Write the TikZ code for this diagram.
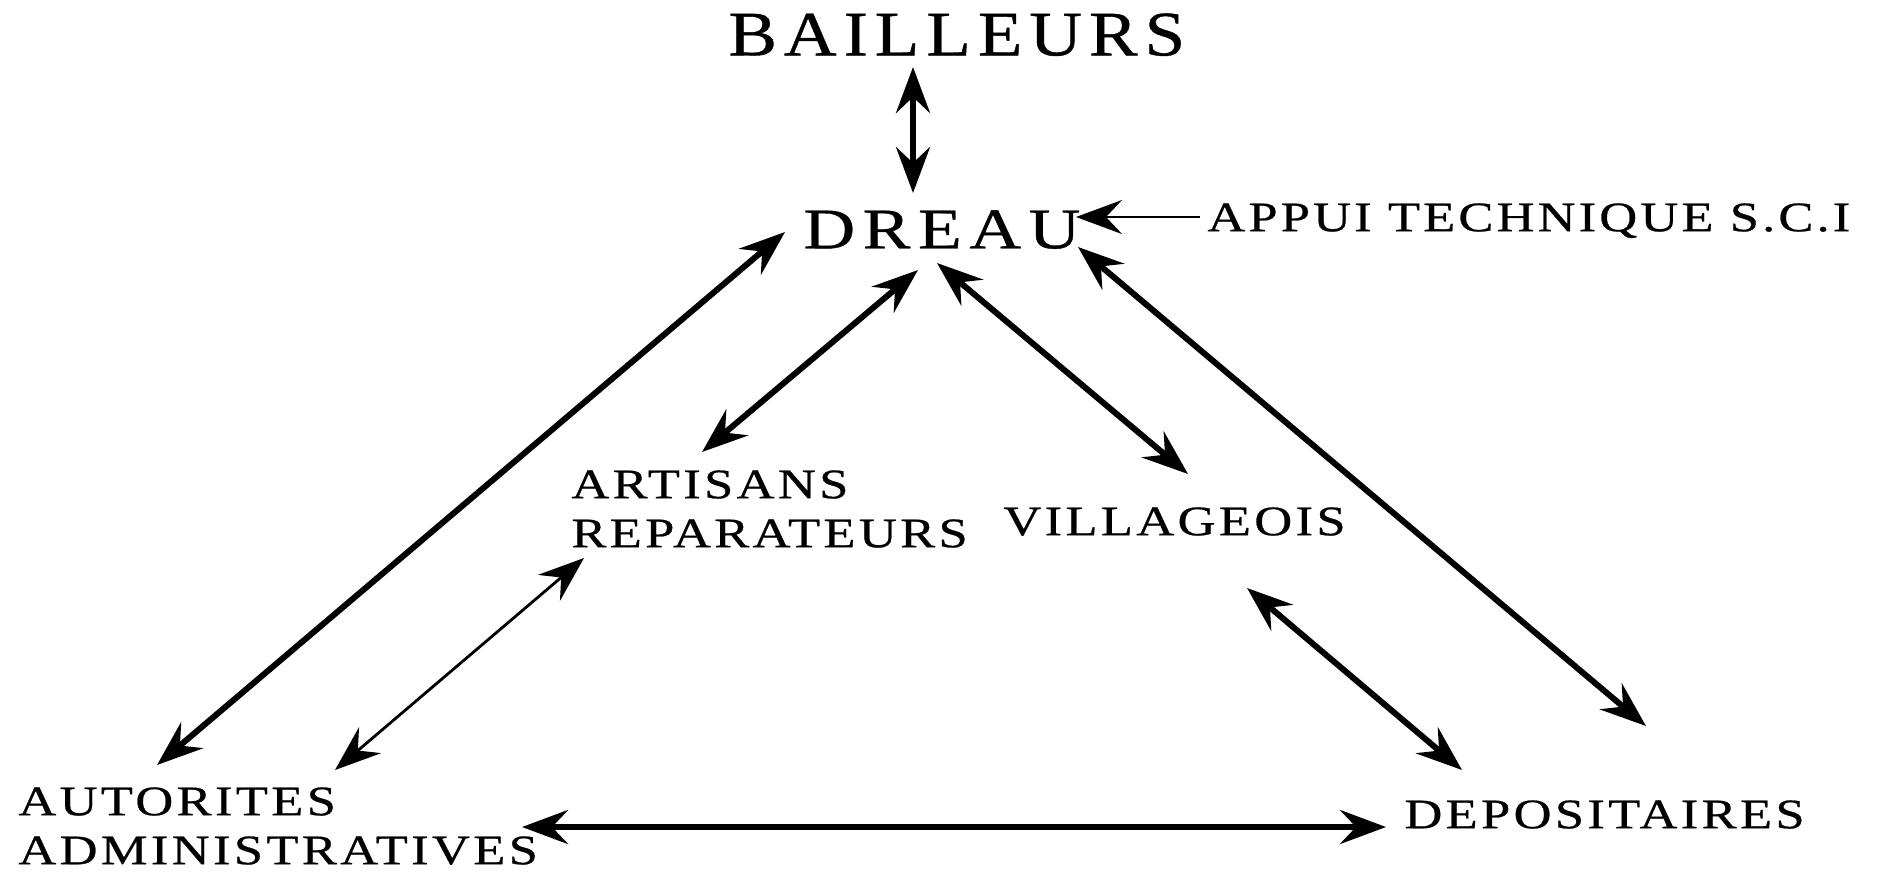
\documentclass[tikz,border=0pt]{standalone}
\usepackage{fontspec}
\setmainfont{Liberation Serif}[FakeStretch=1.15, FakeBold=0.6]
\usepackage{tikz}
\usetikzlibrary{arrows.meta}

\begin{document}
\begin{tikzpicture}[x=0.5pt, y=-0.5pt, >={Stealth[length=23pt, width=17pt, inset=8pt]},
    lbl/.style={inner sep=0pt, anchor=north west, align=left,
      font=\fontsize{21pt}{24.5pt}\selectfont\addfontfeature{FakeStretch=1.25,LetterSpace=8}},
    link/.style={<->, line width=3pt},
    thinlink/.style={<->, line width=1.4pt}]
    \useasboundingbox (0,0) rectangle (1882,874);
    \node[lbl, font=\fontsize{31.7pt}{36pt}\selectfont\addfontfeature{LetterSpace=11}] (bailleurs) at (728,13) {BAILLEURS};
    \node[lbl, font=\fontsize{28.7pt}{34pt}\selectfont\addfontfeature{FakeStretch=1.25,LetterSpace=13}] (dreau) at (803,210) {DREAU};
    \node[lbl, font=\fontsize{21pt}{24pt}\selectfont\addfontfeature{FakeStretch=1.25,LetterSpace=7.5}] (appui) at (1207,203) {APPUI TECHNIQUE S.C.I};
    \node[lbl] (artisans) at (571,470) {ARTISANS\\REPARATEURS};
    \node[lbl] (villageois) at (1003,507) {VILLAGEOIS};
    \node[lbl] (autorites) at (18,787) {AUTORITES\\ADMINISTRATIVES};
    \node[lbl] (depositaires) at (1404,800) {DEPOSITAIRES};
    \draw[link] ([shift={(185,54)}]bailleurs.north west) -- ([shift={(110,-17)}]dreau.north west);
    \draw[->, line width=1.4pt] ([shift={(-7,14)}]appui.north west) -- ([shift={(273,7)}]dreau.north west);
    \draw[link] ([shift={(-18,22)}]dreau.north west) -- ([shift={(139,-22)}]autorites.north west);
    \draw[link] ([shift={(115,60)}]dreau.north west) -- ([shift={(131,-18)}]artisans.north west);
    \draw[link] ([shift={(134,53)}]dreau.north west) -- ([shift={(185,-33)}]villageois.north west);
    \draw[link] ([shift={(275,37)}]dreau.north west) -- ([shift={(242,-74)}]depositaires.north west);
    \draw[thinlink] ([shift={(13,88)}]artisans.north west) -- ([shift={(317,-17)}]autorites.north west);
    \draw[link] ([shift={(244,81)}]villageois.north west) -- ([shift={(58,-30)}]depositaires.north west);
    \draw[link] ([shift={(504,40)}]autorites.north west) -- ([shift={(-18,27)}]depositaires.north west);
\end{tikzpicture}
\end{document}
